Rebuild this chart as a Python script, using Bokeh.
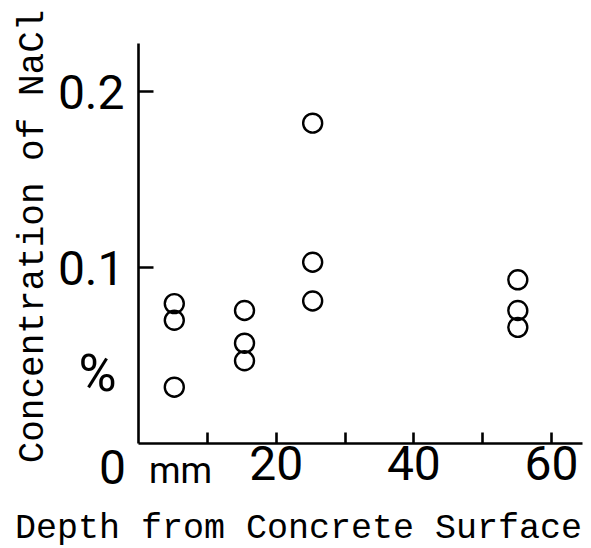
from bokeh.plotting import figure
from bokeh.models import Range1d, FixedTicker, Label, LinearAxis
from bokeh.embed import file_html
from bokeh.resources import INLINE

# data (depth in mm, NaCl concentration in %)
depth = [5.2, 5.2, 5.2, 15.4, 15.4, 15.4, 25.3, 25.3, 25.3, 55.1, 55.1, 55.1]
nacl = [0.0795, 0.070, 0.032, 0.0756, 0.057, 0.047, 0.182, 0.103, 0.081, 0.093, 0.0756, 0.066]

x_ticks = [10, 20, 30, 40, 50, 60]
x_tick_labels = {10: "", 20: "20", 30: "", 40: "40", 50: "", 60: "60"}
y_ticks = [0.1, 0.2]
y_tick_labels = {0.1: "0.1", 0.2: "0.2"}

W, H = 590, 547
KX = 6.884      # px per mm
KY = 1760.0     # px per %
X0_PX, Y0_PX = 138, 443

p = figure(width=W, height=H, output_backend="svg", toolbar_location=None,
           x_range=Range1d(-X0_PX / KX, (W - X0_PX) / KX),
           y_range=Range1d((Y0_PX - H) / KY, Y0_PX / KY),
           x_axis_location=None, y_axis_location=None, min_border=0)
p.outline_line_color = None
p.xgrid.visible = False
p.ygrid.visible = False
p.background_fill_color = "white"
p.border_fill_color = "white"

tick_font = "Roboto"
xax = LinearAxis(fixed_location=0, bounds=(0, 64.5))
yax = LinearAxis(fixed_location=0, bounds=(0, 0.2273))
for ax in (xax, yax):
    ax.axis_line_width = 2.6
    ax.axis_line_color = "black"
    ax.major_tick_line_width = 2.6
    ax.major_tick_line_color = "black"
    ax.major_tick_out = 0
    ax.minor_tick_line_color = None
    ax.major_label_text_font = tick_font
    ax.major_label_text_font_size = "48px"
    ax.major_label_text_color = "black"

xax.ticker = FixedTicker(ticks=x_ticks)
xax.major_label_overrides = x_tick_labels
xax.major_tick_in = 11
xax.major_label_standoff = 2

yax.ticker = FixedTicker(ticks=y_ticks)
yax.major_label_overrides = y_tick_labels
yax.major_tick_in = 15
yax.major_label_standoff = 14

p.add_layout(xax, "below")
p.add_layout(yax, "left")

p.scatter(depth, nacl, marker="circle", size=19, fill_color=None,
          line_color="black", line_width=2.4)

# px -> data helpers for annotation placement
def dx(px):
    return (px - X0_PX) / KX

def dy(py):
    return (Y0_PX - py) / KY

p.add_layout(Label(x=dx(112), y=dy(466), text="0", text_font=tick_font,
                   text_font_size="48px", text_align="center", text_baseline="middle",
                   text_color="black"))
p.add_layout(Label(x=dx(180), y=dy(470), text="mm", text_font=tick_font,
                   text_font_size="36px", text_align="center", text_baseline="alphabetic",
                   text_color="black"))
p.add_layout(Label(x=dx(97), y=dy(373), text="%", text_font=tick_font,
                   text_font_size="52px", text_align="center", text_baseline="middle",
                   text_color="black"))
p.add_layout(Label(x=dx(298), y=dy(528), text="Depth from Concrete Surface",
                   text_font="Liberation Mono", text_font_size="35px",
                   text_align="center", text_baseline="alphabetic", text_color="black"))
p.add_layout(Label(x=dx(33), y=dy(236), text="Concentration of NaCl",
                   text_font="Liberation Mono", text_font_size="36px", angle=1.5708,
                   text_align="center", text_baseline="middle", text_color="black"))

open("out.html", "w").write(file_html(p, INLINE))
